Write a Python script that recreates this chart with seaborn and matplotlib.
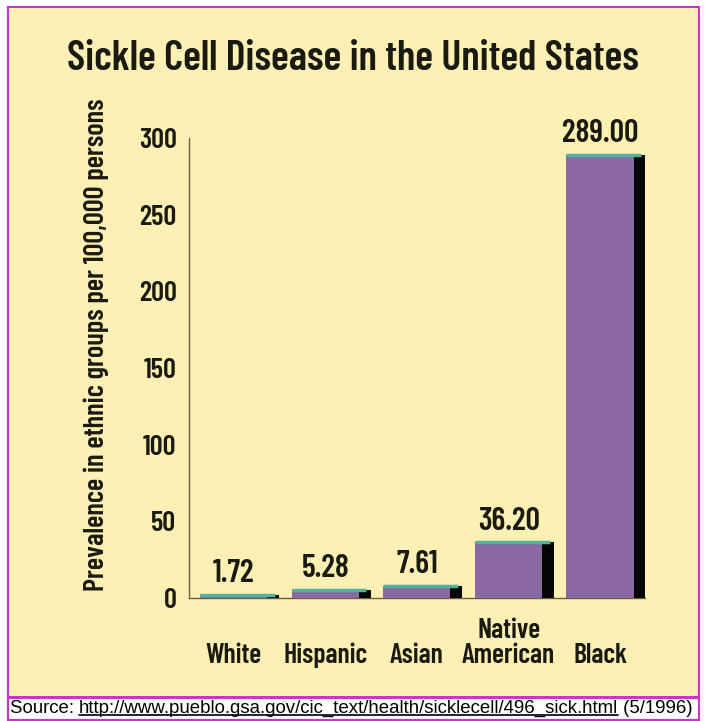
import matplotlib
matplotlib.use("Agg")
import matplotlib.pyplot as plt
import seaborn as sns
import pandas as pd
from matplotlib.patches import Rectangle
from matplotlib.lines import Line2D

categories = ["White", "Hispanic", "Asian", "Native\nAmerican", "Black"]
values = [1.72, 5.28, 7.61, 36.20, 289.00]
yticks = [0, 50, 100, 150, 200, 250, 300]
title = "Sickle Cell Disease in the United States"
ylabel = "Prevalence in ethnic groups per 100,000 persons"
source_pre = "Source: "
source_url = "http://www.pueblo.gsa.gov/cic_text/health/sicklecell/496_sick.html"
source_post = " (5/1996)"

W, H = 707, 721
YELLOW = "#fdf0b4"
PURPLE = "#8a68a2"
TEAL = "#4fb3a0"
MAGENTA = "#cc33cc"
INK = "#1a1a10"

sns.set_theme(style="white")
NARROW = ["Barlow Condensed", "DejaVu Sans"]
plt.rcParams["font.family"] = NARROW
WEIGHT = 600

fig = plt.figure(figsize=(W / 100, H / 100), dpi=100)
fig.patch.set_facecolor("white")

def fx(x):
    return x / W

def fy(y):
    return 1 - y / H

# panels
fig.patches.append(Rectangle((fx(8), fy(697)), fx(691), 690 / H, transform=fig.transFigure,
                             facecolor=YELLOW, edgecolor=MAGENTA, lw=1.5, zorder=-10))
fig.patches.append(Rectangle((fx(8), fy(720)), fx(691), 22 / H, transform=fig.transFigure,
                             facecolor="white", edgecolor=MAGENTA, lw=1.5, zorder=-10))

ax = fig.add_axes([fx(189), fy(598), 456 / W, 460 / H])
ax.set_facecolor("none")

df = pd.DataFrame({"group": categories, "value": values})
front_w = 0.74
side_w = 0.13
sns.barplot(data=df, x="group", y="value", color=PURPLE, width=front_w, saturation=1,
            ax=ax, zorder=3, linewidth=0)
xs = list(range(len(values)))
ax.bar([x + front_w / 2 + side_w / 2 - 0.005 for x in xs], values, width=side_w,
       color="#050505", linewidth=0, zorder=3)
ax.hlines(values, [x - front_w / 2 for x in xs], [x + front_w / 2 + side_w * 0.6 for x in xs],
          color=TEAL, lw=2.5, zorder=4)

ax.set_xlim(-0.49, 4.49)
ax.set_ylim(0, 300)
ax.set_yticks(yticks)
ax.set_yticklabels([str(t) for t in yticks], fontsize=20.5, fontweight=WEIGHT, color=INK)
ax.set_xlabel("")
ax.set_ylabel("")
ax.tick_params(axis="y", length=0, pad=9)
ax.tick_params(axis="x", length=0, pad=47)
for lab in ax.get_xticklabels():
    lab.set_fontsize(20)
    lab.set_fontweight(WEIGHT)
    lab.set_color(INK)
    lab.set_va("baseline")
    lab.set_linespacing(1.0)

for s in ["top", "right"]:
    ax.spines[s].set_visible(False)
for s in ["left", "bottom"]:
    ax.spines[s].set_color("#6a6040")
    ax.spines[s].set_linewidth(1.0)

ax.bar_label(ax.containers[0], labels=[f"{v:.2f}" for v in values], padding=5,
             fontsize=23, fontweight=WEIGHT, color=INK)

fig.text(fx(353), fy(70), title, ha="center", va="baseline", fontsize=30,
         fontweight=WEIGHT, color=INK)
fig.text(fx(96), fy(345), ylabel, ha="center", va="center", rotation=90, fontsize=20.5,
         fontweight=WEIGHT, color=INK)

# source line
fig.canvas.draw()
r = fig.canvas.get_renderer()
SRC_FONT = ["Liberation Sans", "DejaVu Sans"]
FS = 13.4
x0 = 10
base = 713
t1 = fig.text(fx(x0), fy(base), source_pre, ha="left", va="baseline", fontsize=FS,
              family=SRC_FONT, color="black")
e1 = t1.get_window_extent(r)
t2 = fig.text(e1.x1 / W, fy(base), source_url, ha="left", va="baseline", fontsize=FS,
              family=SRC_FONT, color="black")
e2 = t2.get_window_extent(r)
t3 = fig.text(e2.x1 / W, fy(base), source_post, ha="left", va="baseline", fontsize=FS,
              family=SRC_FONT, color="black")
fig.lines.append(Line2D([e2.x0 / W, e2.x1 / W], [fy(base + 2), fy(base + 2)],
                        transform=fig.transFigure, color="black", lw=1.2))

fig.savefig("out.png", dpi=100, facecolor=fig.get_facecolor())
